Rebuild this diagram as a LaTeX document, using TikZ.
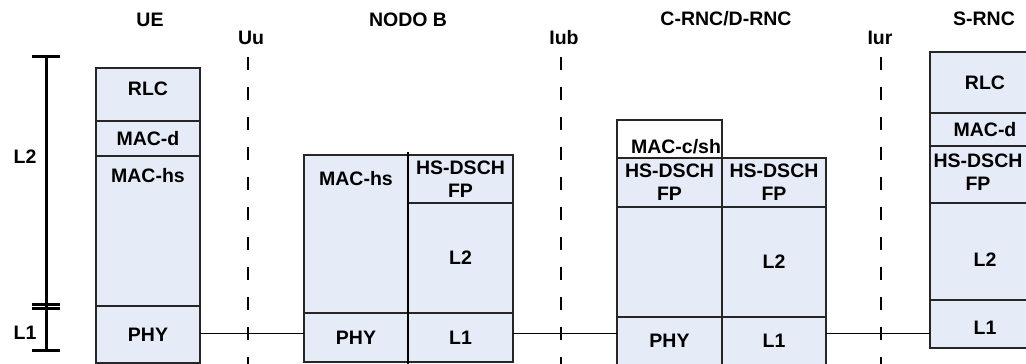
\documentclass[tikz,border=0pt]{standalone}
\usepackage{fontspec}
\setmainfont{Liberation Sans}
\usepackage{xcolor}
\usetikzlibrary{positioning}

\definecolor{layerfill}{RGB}{230,236,247}

\begin{document}
\begin{tikzpicture}[x=1pt, y=-1pt,
        font=\fontsize{19.5}{23}\selectfont\bfseries,
        layer/.style={draw=black!85, line width=1.4pt, fill=layerfill,
            inner sep=0pt, outer sep=0pt, minimum width=#1, align=center},
        link/.style={line width=1pt, black},
        iface/.style={line width=2.2pt, black, dash pattern=on 13pt off 17pt},
        bracket/.style={line width=3pt, black}]

        \useasboundingbox (0,0) rectangle (1026,364);

        % Titles
        \node (uetitle) at (150,20) {UE};
        \node (nbtitle) at (408,20) {NODO B};
        \node (rnctitle) at (726,19) {C-RNC/D-RNC};
        \node (srnctitle) at (984,19) {S-RNC};

        % Interfaces
        \coordinate (UuT) at (248,57);
        \coordinate (UuB) at (248,366);
        \coordinate (IubT) at (561,57);
        \coordinate (IubB) at (561,366);
        \coordinate (IurT) at (881,57);
        \coordinate (IurB) at (881,366);
        \draw[iface] (UuT) -- (UuB);
        \draw[iface] (IubT) -- (IubB);
        \draw[iface] (IurT) -- (IurB);
        \node (uulabel) at (251,38) {Uu};
        \node (iublabel) at (564,38) {Iub};
        \node (iurlabel) at (880,38) {Iur};

        % Layer bracket
        \coordinate (L2top) at (46,56);
        \coordinate (L2bot) at (46,304);
        \coordinate (L1top) at (46,308);
        \coordinate (L1bot) at (46,350);
        \draw[bracket] (L2top) -- (L1bot);
        \draw[bracket] ([xshift=-14pt]L2top) -- ([xshift=14pt]L2top);
        \draw[bracket] ([xshift=-14pt]L2bot) -- ([xshift=14pt]L2bot);
        \draw[bracket] ([xshift=-14pt]L1top) -- ([xshift=14pt]L1top);
        \draw[bracket] ([xshift=-14pt]L1bot) -- ([xshift=14pt]L1bot);
        \node (ltwolabel) at (25,157) {L2};
        \node (lonelabel) at (25,333) {L1};

        % UE stack
        \node[layer=104pt, minimum height=53pt, anchor=north west] (uerlc) at (96,68) {};
        \node[layer=104pt, minimum height=35pt, below=0pt of uerlc] (uemacd) {MAC-d};
        \node[layer=104pt, minimum height=150pt, below=0pt of uemacd] (uemachs) {};
        \node[layer=104pt, minimum height=57pt, below=0pt of uemachs] (uephy) {PHY};
        \node (uerlctxt) at (148,88.5) {RLC};
        \node (uemachstxt) at (148,176) {MAC-hs};

        % NODO B stack
        \node[layer=104pt, minimum height=158pt, anchor=north west] (nbmachs) at (304,155) {};
        \node[layer=104pt, minimum height=49pt, below=0pt of nbmachs] (nbphy) {PHY};
        \node[layer=105pt, minimum height=48pt, anchor=north west] (nbfp) at (408,155) {HS-DSCH\\FP};
        \node[layer=105pt, minimum height=110pt, below=0pt of nbfp] (nbltwo) {L2};
        \node[layer=105pt, minimum height=49pt, below=0pt of nbltwo] (nblone) {L1};
        \node (nbmachstxt) at (356,179) {MAC-hs};
        \draw[line width=1.4pt] ([yshift=3pt]nbfp.north west) -- ([yshift=-4pt]nblone.south west);

        % C-RNC/D-RNC stack
        \node[layer=105pt, minimum height=38pt, fill=white, anchor=north west] (rncmac) at (617,120) {};
        \node[layer=105pt, minimum height=49pt, below=0pt of rncmac] (rncfpl) {HS-DSCH\\FP};
        \node[layer=105pt, minimum height=110pt, below=0pt of rncfpl] (rncgap) {};
        \node[layer=105pt, minimum height=48pt, below=0pt of rncgap] (rncphy) {PHY};
        \node[layer=104pt, minimum height=49pt, anchor=north west] (rncfpr) at (722,158) {HS-DSCH\\FP};
        \node[layer=104pt, minimum height=110pt, below=0pt of rncfpr] (rncltwo) {L2};
        \node[layer=104pt, minimum height=48pt, below=0pt of rncltwo] (rnclone) {L1};
        \node (rncmactxt) at (676,147) {MAC-c/sh};

        % S-RNC stack
        \node[layer=110pt, minimum height=61pt, anchor=north west] (srlc) at (930,52) {RLC};
        \node[layer=110pt, minimum height=33pt, below=0pt of srlc] (smacd) {MAC-d};
        \node[layer=110pt, minimum height=57pt, below=0pt of smacd] (sfp) {};
        \node[layer=110pt, minimum height=97pt, below=0pt of sfp] (sltwo) {};
        \node[layer=110pt, minimum height=48pt, below=0pt of sltwo] (slone) {};
        \node[align=center, inner sep=0pt] (sfptxt) at (978,172.5) {HS-DSCH\\FP};
        \node (sltwotxt) at (985,260) {L2};
        \node (slonetxt) at (985,328) {L1};

        % Physical links
        \coordinate (phyline) at (0,333);
        \draw[link] (uephy.east |- phyline) -- (nbphy.west |- phyline);
        \draw[link] (nblone.east |- phyline) -- (rncphy.west |- phyline);
        \draw[link] (rnclone.east |- phyline) -- (slone.west |- phyline);

    \end{tikzpicture}
\end{document}
